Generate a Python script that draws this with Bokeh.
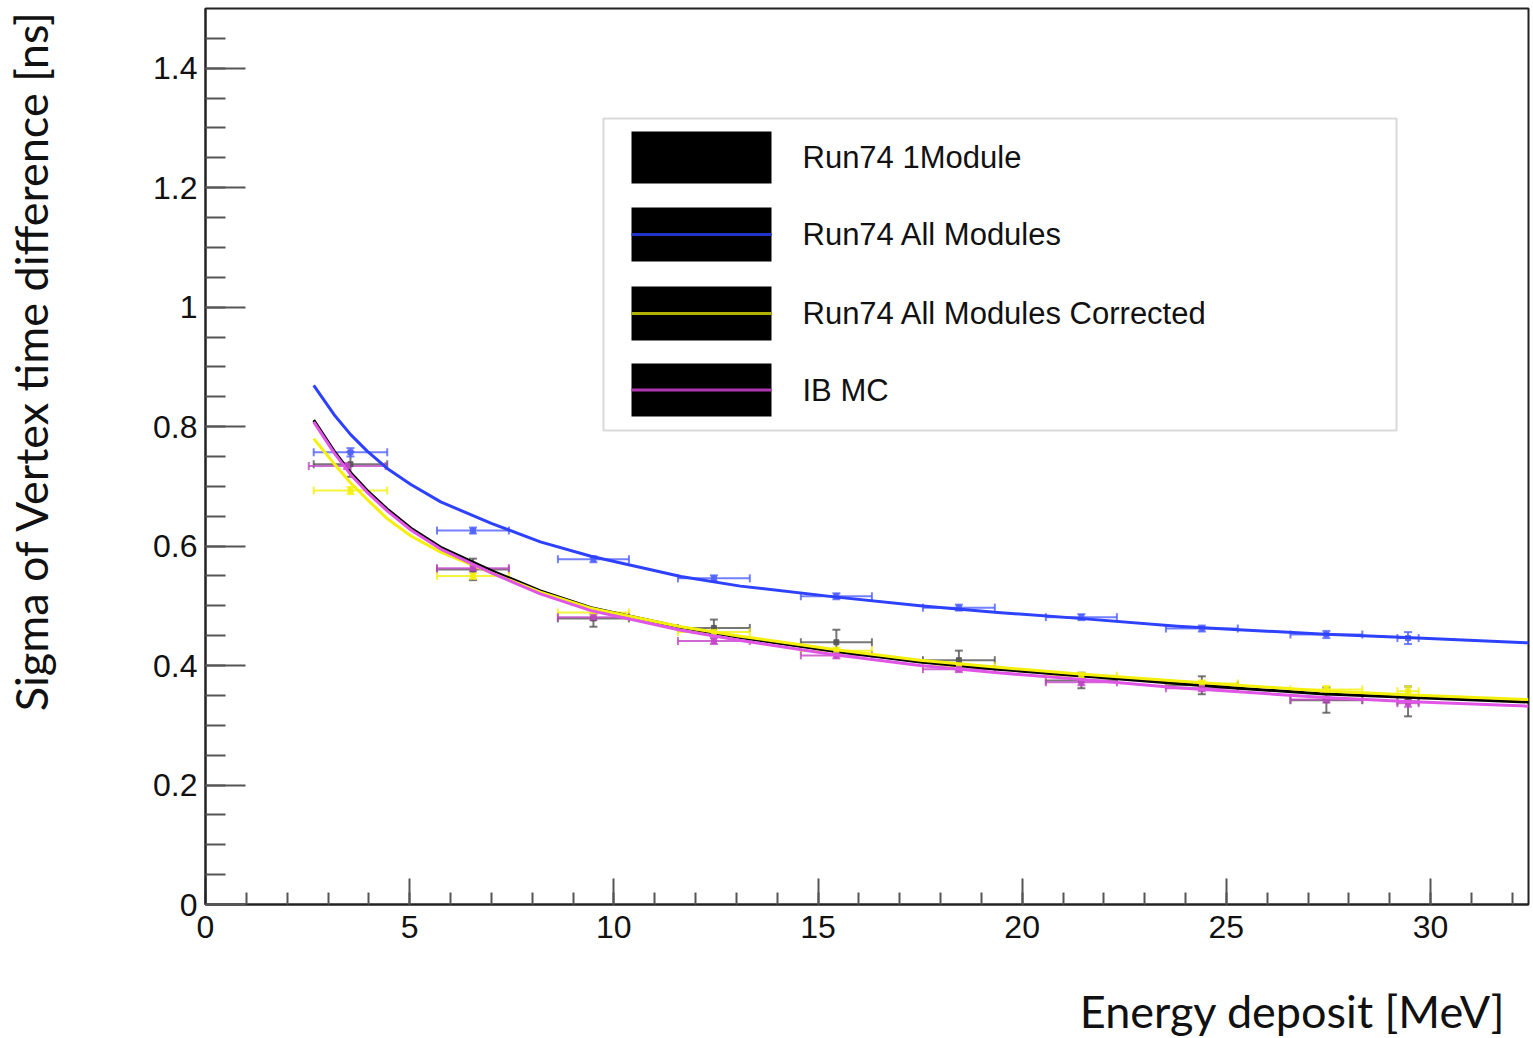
import math
from bokeh.plotting import figure
from bokeh.layouts import column, row
from bokeh.models import (ColumnDataSource, Whisker, TeeHead, SingleIntervalTicker,
                          CustomJSTickFormatter, BoxAnnotation, Label, Range1d)
from bokeh.embed import file_html
from bokeh.resources import INLINE

# ---------------- data ----------------
bin_x = [3.55, 6.55, 9.5, 12.45, 15.45, 18.45, 21.45, 24.4, 27.45, 29.45]
bin_xerr = [0.9, 0.88, 0.87, 0.88, 0.87, 0.88, 0.87, 0.88, 0.88, 0.26]

one_module_y = [0.737, 0.561, 0.479, 0.463, 0.439, 0.409, 0.375, 0.367, 0.342, 0.340]
one_module_yerr = [0.021, 0.018, 0.014, 0.014, 0.021, 0.016, 0.013, 0.015, 0.021, 0.025]

all_modules_y = [0.757, 0.626, 0.578, 0.546, 0.516, 0.497, 0.481, 0.462, 0.452, 0.446]
all_modules_yerr = [0.007, 0.005, 0.005, 0.005, 0.005, 0.005, 0.005, 0.005, 0.006, 0.010]

corrected_y = [0.693, 0.550, 0.489, 0.456, 0.425, 0.399, 0.383, 0.370, 0.360, 0.357]
corrected_yerr = [0.006, 0.005, 0.005, 0.005, 0.005, 0.005, 0.005, 0.005, 0.006, 0.008]

mc_x = [3.47, 6.55, 9.5, 12.45, 15.45, 18.45, 21.45, 24.4, 27.45, 29.45]
mc_xerr = [0.94, 0.88, 0.87, 0.88, 0.87, 0.88, 0.87, 0.88, 0.88, 0.26]
mc_y = [0.734, 0.563, 0.481, 0.441, 0.417, 0.394, 0.372, 0.362, 0.343, 0.337]
mc_yerr = [0.005, 0.005, 0.005, 0.005, 0.005, 0.005, 0.005, 0.005, 0.005, 0.006]

# fitted curves
curve_x = [2.65, 3.15, 3.55, 3.96, 4.45, 5.03, 5.76, 7.0, 8.2, 9.44, 11.64, 13.1,
           15.4, 17.5, 19.4, 21.4, 23.8, 25.3, 27.3, 29.4, 32.4]
one_module_fit = [0.811, 0.759, 0.723, 0.693, 0.662, 0.630, 0.598, 0.559, 0.525, 0.497,
                  0.464, 0.447, 0.424, 0.406, 0.394, 0.383, 0.370, 0.362, 0.353, 0.347, 0.339]
all_modules_fit = [0.869, 0.820, 0.787, 0.759, 0.730, 0.703, 0.674, 0.638, 0.607, 0.583,
                   0.549, 0.533, 0.515, 0.500, 0.489, 0.479, 0.466, 0.460, 0.453, 0.447, 0.438]
corrected_fit = [0.780, 0.738, 0.706, 0.678, 0.646, 0.617, 0.590, 0.555, 0.523, 0.496,
                 0.465, 0.449, 0.427, 0.409, 0.397, 0.386, 0.374, 0.367, 0.358, 0.351, 0.343]
mc_fit = [0.808, 0.756, 0.720, 0.690, 0.659, 0.627, 0.595, 0.555, 0.520, 0.492,
          0.459, 0.442, 0.418, 0.400, 0.388, 0.377, 0.363, 0.356, 0.347, 0.340, 0.332]

legend_labels = ["Run74 1Module", "Run74 All Modules", "Run74 All Modules Corrected", "IB MC"]
x_title = "Energy deposit [MeV]"
y_title = "Sigma of Vertex time difference [ns]"

x_ticks_interval = 5
y_ticks_interval = 0.2

# ---------------- main figure ----------------
p = figure(width=1463, height=960, output_backend="svg", toolbar_location=None,
           x_range=Range1d(0, 32.4), y_range=Range1d(0, 1.5),
           min_border_left=135, min_border_right=5, min_border_top=8, min_border_bottom=56,
           background_fill_color="white", border_fill_color="white")
p.grid.visible = False
p.outline_line_color = "#222222"
p.outline_line_width = 2

for ax in (p.xaxis[0], p.yaxis[0]):
    ax.axis_line_color = "#222222"
    ax.axis_line_width = 2
    ax.major_tick_out = 0
    ax.minor_tick_out = 0
    ax.major_tick_line_color = "#555555"
    ax.minor_tick_line_color = "#555555"
    ax.major_tick_line_width = 2
    ax.minor_tick_line_width = 2
    ax.major_label_text_font = "Liberation Sans"
    ax.major_label_text_font_size = "32px"
    ax.major_label_text_color = "#111111"

p.xaxis.ticker = SingleIntervalTicker(interval=x_ticks_interval, num_minor_ticks=5)
p.xaxis.major_tick_in = 26
p.xaxis.minor_tick_in = 12
p.xaxis.major_label_standoff = 11

p.yaxis.ticker = SingleIntervalTicker(interval=y_ticks_interval, num_minor_ticks=4)
p.yaxis.major_tick_in = 40
p.yaxis.minor_tick_in = 20
p.yaxis.major_label_standoff = 8
p.yaxis.formatter = CustomJSTickFormatter(code="return (Math.round(tick*100)/100).toString();")

series = [
    # x, xerr, y, yerr, fit, line colour, bar colour
    (bin_x, bin_xerr, one_module_y, one_module_yerr, one_module_fit, "#000000", "#555555"),
    (bin_x, bin_xerr, corrected_y, corrected_yerr, corrected_fit, "#f4f00c", "#f4f00c"),
    (mc_x, mc_xerr, mc_y, mc_yerr, mc_fit, "#e055e6", "#c445c8"),
    (bin_x, bin_xerr, all_modules_y, all_modules_yerr, all_modules_fit, "#2d41ff", "#5060ff"),
]

for xs, xe, ys, ye, fit, lc, bc in series:
    src = ColumnDataSource(dict(
        x=xs, y=ys,
        xl=[a - b for a, b in zip(xs, xe)], xu=[a + b for a, b in zip(xs, xe)],
        yl=[a - b for a, b in zip(ys, ye)], yu=[a + b for a, b in zip(ys, ye)],
    ))
    wx = Whisker(source=src, base="y", lower="xl", upper="xu", dimension="width",
                 line_color=bc, line_width=2, line_alpha=0.8, level="underlay",
                 upper_head=TeeHead(size=8, line_color=bc, line_width=2, line_alpha=0.8),
                 lower_head=TeeHead(size=8, line_color=bc, line_width=2, line_alpha=0.8))
    wy = Whisker(source=src, base="x", lower="yl", upper="yu", dimension="height",
                 line_color=bc, line_width=2, line_alpha=0.8, level="underlay",
                 upper_head=TeeHead(size=8, line_color=bc, line_width=2, line_alpha=0.8),
                 lower_head=TeeHead(size=8, line_color=bc, line_width=2, line_alpha=0.8))
    p.add_layout(wx)
    p.add_layout(wy)
    p.scatter("x", "y", source=src, marker="square", size=5, color=bc, alpha=0.9)
    p.line(curve_x, fit, line_color=lc, line_width=3, line_join="round")

# ---------------- legend (drawn by hand, frame-relative screen units) ----------------
box = BoxAnnotation(left=398, right=1191, bottom=474, top=786,
                    left_units="screen", right_units="screen",
                    bottom_units="screen", top_units="screen",
                    fill_color="white", fill_alpha=1.0, line_color="#808080", line_width=2,
                    level="overlay")
p.add_layout(box)

rows_spec = [(773, 721, None), (697, 643, "#2233cc"), (618, 564, "#b0b000"), (541, 488, "#b035b0")]
for (top, bottom, lcol), lab in zip(rows_spec, legend_labels):
    p.add_layout(BoxAnnotation(left=426, right=566, bottom=bottom, top=top,
                               left_units="screen", right_units="screen",
                               bottom_units="screen", top_units="screen",
                               fill_color="black", fill_alpha=1.0, line_color=None,
                               level="overlay"))
    mid = (top + bottom) / 2
    if lcol is not None:
        p.add_layout(BoxAnnotation(left=426, right=566, bottom=mid - 1.5, top=mid + 1.5,
                                   left_units="screen", right_units="screen",
                                   bottom_units="screen", top_units="screen",
                                   fill_color=lcol, fill_alpha=1.0, line_color=None,
                                   level="overlay"))
    p.add_layout(Label(x=597, y=mid, x_units="screen", y_units="screen", text=lab,
                       text_font="Liberation Sans", text_font_size="31px",
                       text_color="#111111", text_baseline="middle", level="overlay"))


def blank_canvas(w, h):
    f = figure(width=w, height=h, output_backend="svg", toolbar_location=None, title=None,
               x_range=Range1d(0, w), y_range=Range1d(0, h),
               x_axis_location=None, y_axis_location=None,
               min_border_left=0, min_border_right=0, min_border_top=0, min_border_bottom=0,
               background_fill_color="white", border_fill_color="white")
    f.grid.visible = False
    f.outline_line_color = None
    return f


# ---------------- y-axis title strip (its frame is aligned with the main frame) ----------------
ypanel = blank_canvas(70, 960)
ypanel.add_layout(Label(x=30, y=544, x_units="screen", y_units="screen", text=y_title,
                        angle=math.pi / 2, text_font="Lato", text_font_size="45px",
                        text_color="#111111", text_align="center",
                        text_baseline="middle"))

# ---------------- x-axis title strip ----------------
xpanel = blank_canvas(1533, 78)
xpanel.add_layout(Label(x=1505, y=28, x_units="screen", y_units="screen", text=x_title,
                        text_font="Lato", text_font_size="45px", text_color="#111111",
                        text_align="right", text_baseline="middle"))

layout = column(row(ypanel, p, spacing=0), xpanel, spacing=0)

open("out.html", "w").write(file_html(layout, INLINE))
